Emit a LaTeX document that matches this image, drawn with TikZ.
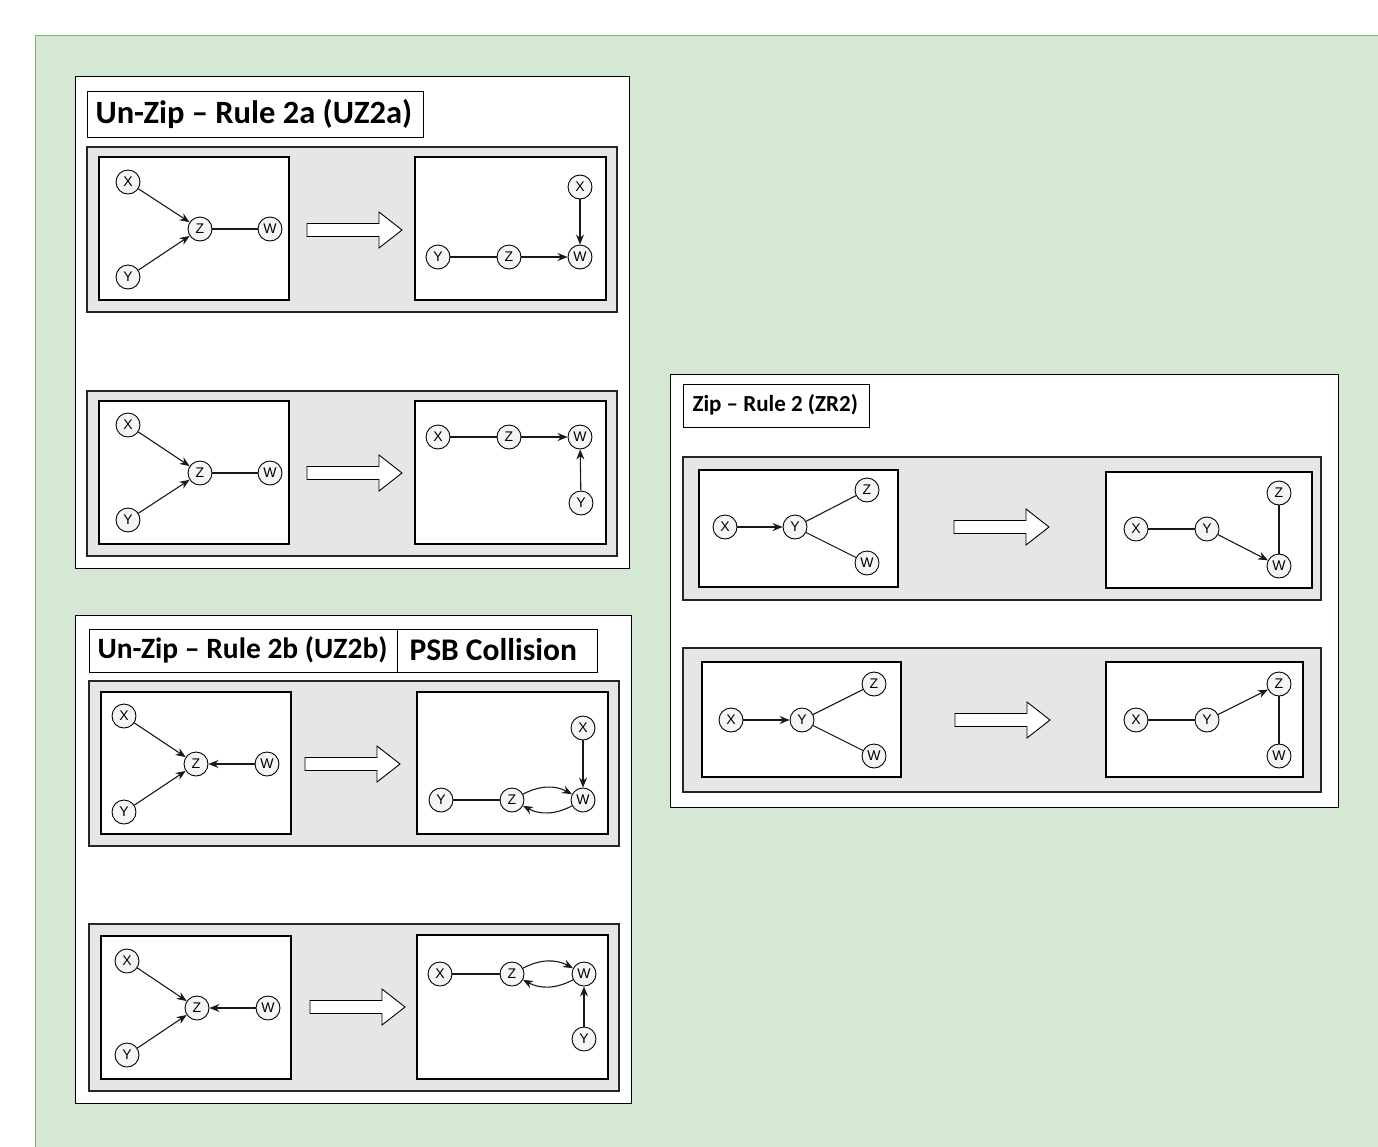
\documentclass[tikz,border=0pt]{standalone}
\usepackage{fontspec}
\setmainfont{Liberation Sans}
\newfontfamily\titlefont{Carlito}
\usetikzlibrary{arrows.meta}
\definecolor{bggreen}{HTML}{D5E8D4}
\definecolor{bgline}{HTML}{82B366}
\definecolor{graybox}{HTML}{E6E6E6}
\definecolor{vfill}{HTML}{F5F5F5}
\tikzset{
  panel/.style={draw=black, line width=1pt, fill=white, inner sep=0pt, outer sep=0pt},
  grayb/.style={draw=black!85, line width=1.5pt, fill=graybox, inner sep=0pt, outer sep=0pt},
  innerb/.style={draw=black, line width=1.3pt, fill=white, inner sep=0pt, outer sep=0pt},
  v/.style={circle, draw=black, line width=0.9pt, fill=vfill, minimum size=24pt, inner sep=0pt, font=\fontsize{14}{14}\selectfont},
  e/.style={line width=1.1pt, draw=black!90},
  arr/.style={e, -{Stealth[length=10pt,width=8pt]}},
  tbox/.style={draw=black, line width=1pt, fill=white, anchor=north west, inner sep=0pt, outer sep=0pt},
  bigtitle/.style={font=\titlefont\bfseries\fontsize{32.5}{36}\selectfont},
  midtitle/.style={font=\titlefont\bfseries\fontsize{29.5}{34}\selectfont},
  psbtitle/.style={font=\titlefont\bfseries\fontsize{31.5}{34}\selectfont},
  smalltitle/.style={font=\titlefont\bfseries\fontsize{23}{26}\selectfont},
  barrow/.pic={\draw[line width=0.9pt, fill=white] (0,-6.5) -- (72,-6.5) -- (72,-18) -- (95,0) -- (72,18) -- (72,6.5) -- (0,6.5) -- cycle;}
}
\newcommand{\bx}[6]{\node[#2, anchor=north west, minimum width={(#5-#3)*1pt}, minimum height={(#6-#4)*1pt}] (#1) at (#3,#4) {};}
\begin{document}
\begin{tikzpicture}[x=1pt,y=-1pt]
\useasboundingbox (0,0) rectangle (1378,1146);
\fill[bggreen] (35,35) rectangle (1385,1150);
\draw[bgline, line width=1pt] (35,1150) -- (35,35) -- (1385,35);

% ================= UZ2a =================
\bx{pA}{panel}{75}{76}{629}{568}
\bx{tA}{tbox}{87}{91}{423}{137}
\node[bigtitle, anchor=west] (tAt) at (92,114) {Un-Zip – Rule 2a (UZ2a)};

\bx{gA1}{grayb}{87}{147}{617}{312}
\bx{iA1l}{innerb}{99}{157}{289}{300}
\bx{iA1r}{innerb}{415}{157}{606}{300}
\node[v] (a1x) at (128,182) {X};
\node[v] (a1z) at (200,229) {Z};
\node[v] (a1w) at (270,229) {W};
\node[v] (a1y) at (128,277) {Y};
\draw[arr] (a1x) -- (a1z);
\draw[arr] (a1y) -- (a1z);
\draw[e] (a1z) -- (a1w);
\pic at (307,230) {barrow};
\node[v] (b1x) at (580,187) {X};
\node[v] (b1w) at (580,257) {W};
\node[v] (b1y) at (438,257) {Y};
\node[v] (b1z) at (509,257) {Z};
\draw[arr] (b1x) -- (b1w);
\draw[e] (b1y) -- (b1z);
\draw[arr] (b1z) -- (b1w);

\bx{gA2}{grayb}{87}{391}{617}{556}
\bx{iA2l}{innerb}{99}{401}{289}{544}
\bx{iA2r}{innerb}{415}{401}{606}{544}
\node[v] (a2x) at (128,425) {X};
\node[v] (a2z) at (200,473) {Z};
\node[v] (a2w) at (270,473) {W};
\node[v] (a2y) at (128,520) {Y};
\draw[arr] (a2x) -- (a2z);
\draw[arr] (a2y) -- (a2z);
\draw[e] (a2z) -- (a2w);
\pic at (307,473) {barrow};
\node[v] (b2x) at (438,437) {X};
\node[v] (b2z) at (509,437) {Z};
\node[v] (b2w) at (580,437) {W};
\node[v] (b2y) at (581,503) {Y};
\draw[e] (b2x) -- (b2z);
\draw[arr] (b2z) -- (b2w);
\draw[arr] (b2y) -- (b2w);

% ================= UZ2b =================
\bx{pB}{panel}{75}{615}{631}{1103}
\bx{tB}{tbox}{89}{629}{597}{672}
\draw[line width=1pt] (397,629) -- (397,672);
\node[midtitle, anchor=west] (tBt) at (94,650) {Un-Zip – Rule 2b (UZ2b)};
\node[psbtitle, anchor=west] (tBs) at (406,650) {PSB Collision};

\bx{gB1}{grayb}{89}{681}{619}{846}
\bx{iB1l}{innerb}{101}{692}{291}{834}
\bx{iB1r}{innerb}{417}{692}{608}{834}
\node[v] (c1x) at (124,716) {X};
\node[v] (c1z) at (196,764) {Z};
\node[v] (c1w) at (267,764) {W};
\node[v] (c1y) at (124,812) {Y};
\draw[arr] (c1x) -- (c1z);
\draw[arr] (c1y) -- (c1z);
\draw[arr] (c1w) -- (c1z);
\pic at (305,764) {barrow};
\node[v] (d1x) at (583,728) {X};
\node[v] (d1w) at (583,800) {W};
\node[v] (d1y) at (441,800) {Y};
\node[v] (d1z) at (512,800) {Z};
\draw[arr] (d1x) -- (d1w);
\draw[e] (d1y) -- (d1z);
\draw[arr] (d1z) to[bend left=28] (d1w);
\draw[arr] (d1w) to[bend left=28] (d1z);

\bx{gB2}{grayb}{89}{924}{619}{1091}
\bx{iB2l}{innerb}{101}{936}{291}{1079}
\bx{iB2r}{innerb}{417}{935}{608}{1079}
\node[v] (c2x) at (127,961) {X};
\node[v] (c2z) at (197,1008) {Z};
\node[v] (c2w) at (268,1008) {W};
\node[v] (c2y) at (127,1055) {Y};
\draw[arr] (c2x) -- (c2z);
\draw[arr] (c2y) -- (c2z);
\draw[arr] (c2w) -- (c2z);
\pic at (310,1007) {barrow};
\node[v] (d2x) at (440,974) {X};
\node[v] (d2z) at (512,974) {Z};
\node[v] (d2w) at (584,974) {W};
\node[v] (d2y) at (584,1039) {Y};
\draw[e] (d2x) -- (d2z);
\draw[arr] (d2z) to[bend left=28] (d2w);
\draw[arr] (d2w) to[bend left=28] (d2z);
\draw[arr] (d2y) -- (d2w);

% ================= ZR2 =================
\bx{pC}{panel}{670}{374}{1338}{807}
\bx{tC}{tbox}{683}{384}{869}{427}
\node[smalltitle, anchor=west] (tCt) at (689,405) {Zip – Rule 2 (ZR2)};

\bx{gC1}{grayb}{683}{457}{1321}{600}
\bx{iC1l}{innerb}{699}{470}{898}{587}
\bx{iC1r}{innerb}{1106}{472}{1312}{588}
\node[v] (e1x) at (725,527) {X};
\node[v] (e1y) at (795,527) {Y};
\node[v] (e1z) at (867,490) {Z};
\node[v] (e1w) at (867,563) {W};
\draw[arr] (e1x) -- (e1y);
\draw[e] (e1y) -- (e1z);
\draw[e] (e1y) -- (e1w);
\pic at (954,527) {barrow};
\node[v] (f1x) at (1136,529) {X};
\node[v] (f1y) at (1207,529) {Y};
\node[v] (f1z) at (1279,493) {Z};
\node[v] (f1w) at (1279,566) {W};
\draw[e] (f1x) -- (f1y);
\draw[arr] (f1y) -- (f1w);
\draw[e] (f1z) -- (f1w);

\bx{gC2}{grayb}{683}{648}{1321}{792}
\bx{iC2l}{innerb}{702}{662}{901}{777}
\bx{iC2r}{innerb}{1106}{662}{1303}{777}
\node[v] (e2x) at (731,720) {X};
\node[v] (e2y) at (802,720) {Y};
\node[v] (e2z) at (874,684) {Z};
\node[v] (e2w) at (874,756) {W};
\draw[arr] (e2x) -- (e2y);
\draw[e] (e2y) -- (e2z);
\draw[e] (e2y) -- (e2w);
\pic at (955,720) {barrow};
\node[v] (f2x) at (1136,720) {X};
\node[v] (f2y) at (1207,720) {Y};
\node[v] (f2z) at (1279,684) {Z};
\node[v] (f2w) at (1279,756) {W};
\draw[e] (f2x) -- (f2y);
\draw[arr] (f2y) -- (f2z);
\draw[e] (f2z) -- (f2w);
\end{tikzpicture}
\end{document}
